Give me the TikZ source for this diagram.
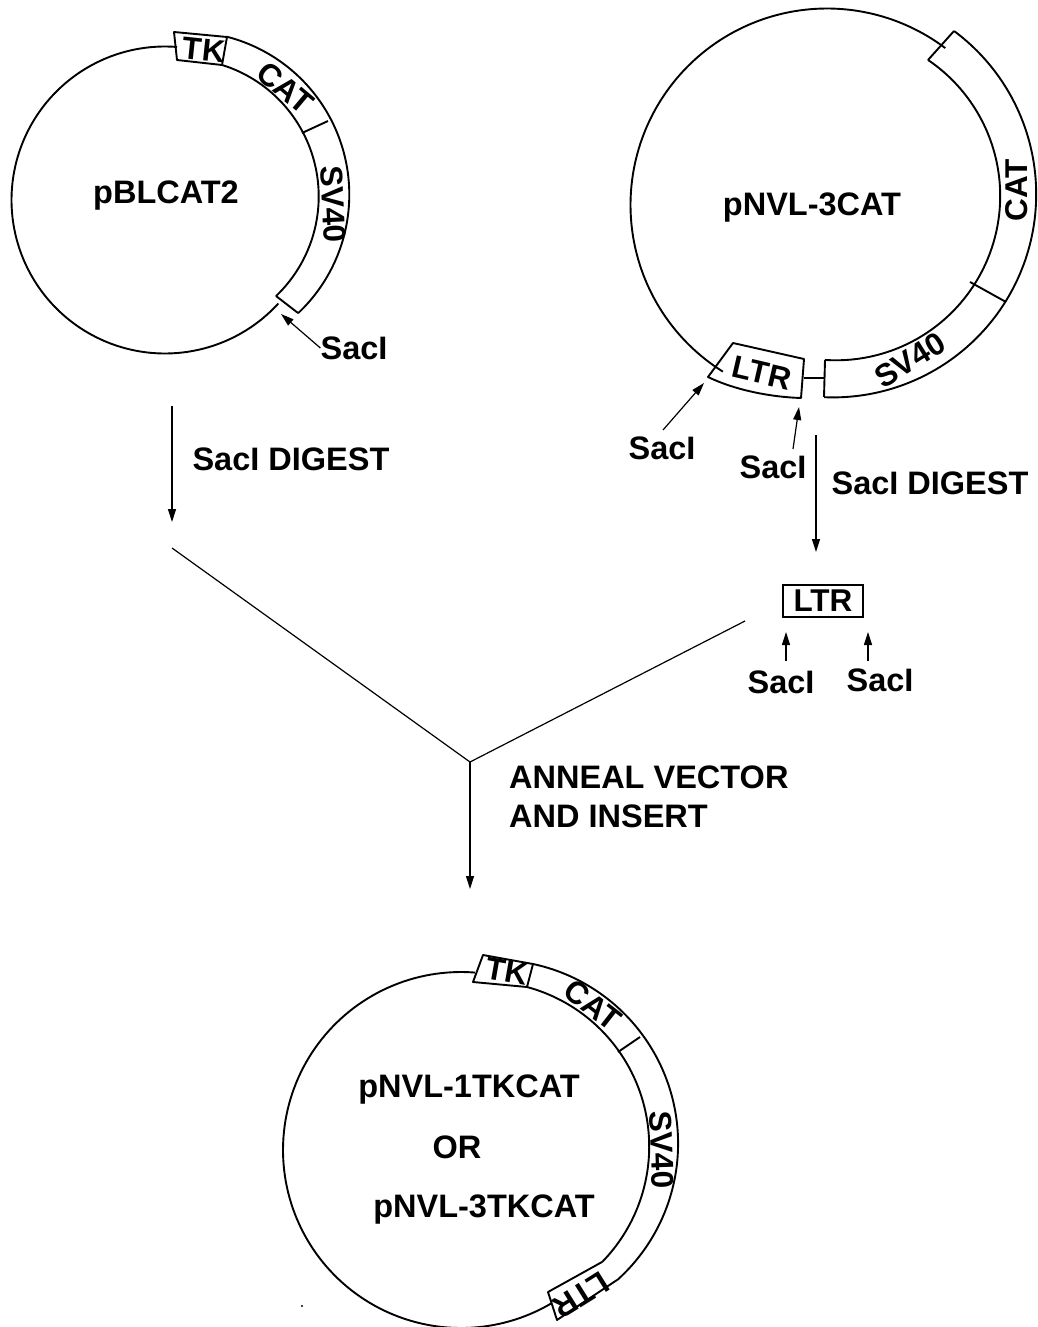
\documentclass[tikz,border=0pt]{standalone}
\usepackage{fontspec}
\setmainfont{Liberation Sans}
\usetikzlibrary{arrows.meta}
\tikzset{
  line/.style={draw=black,line width=1.9pt,line join=round},
  thin line/.style={draw=black,line width=1.2pt},
  arrow line/.style={thin line,-{Triangle[length=13pt,width=8pt]}},
  lbl/.style={font=\fontsize{32.5}{38}\bfseries\selectfont,text=black,inner sep=0pt},
  blbl/.style={font=\fontsize{31.5}{38}\bfseries\selectfont,text=black,inner sep=0pt}
}
% centre x, centre y, radius, start angle, end angle (clockwise on screen)
\newcommand\ringarc[5]{\draw[line] plot[domain=#4:#5,samples=120] ({#1+#3*cos(\x)},{#2+#3*sin(\x)});}
\begin{document}
\begin{tikzpicture}[x=1pt,y=-1pt]
\useasboundingbox (0,0) rectangle (1037,1327);
\fill[white] (0,0) rectangle (1037,1327);
% --- pBLCAT2
\ringarc{165}{200}{153.5}{-85.5}{-317.6}
\ringarc{181}{196.4}{137.7}{-72.7}{46.4}
\ringarc{186.3}{194.6}{163}{-75.5}{46.7}
\draw[line] (276,296) -- (298,313);
\draw[line] (227,37) -- (174,32) -- (177,60) -- (222,65) -- cycle;
\draw[line] (302,133) -- (328,121);
\node[blbl,rotate=-6] (tkA) at (204,50) {TK};
\node[blbl,rotate=-40] (catA) at (285,88) {CAT};
\node[blbl,rotate=-87] (svA) at (333,204) {SV40};
\node[lbl] (nameA) at (166,196) {pBLCAT2};
\node[lbl] (sacA) at (354,348) {SacI};
\coordinate (sacAtip) at (281,314);
\draw[arrow line] (sacA.west) -- (sacAtip);
% digest left
\node[lbl] (digA) at (291,459) {SacI DIGEST};
\coordinate (dA1) at (172,406);
\coordinate (dA2) at (172,522);
\draw[arrow line] (dA1) -- (dA2);
% --- pNVL-3CAT
\ringarc{827}{205}{196.5}{-53}{-238}
\ringarc{835.9}{196}{164.3}{-55.9}{93.8}
\ringarc{833}{194.2}{203.2}{-53.4}{92.5}
\draw[line] (928,60) -- (954,31);
\draw[line] (825,360) -- (824,397);
\draw[line] (970,282) -- (1006,302);
\draw[line] (708,377) -- (733,343) -- (804,359) -- (801,398) .. controls (770,397) and (735,390) .. (708,377) -- cycle;
\draw[line] (804,378) -- (824,378);
\node[blbl,rotate=-13] (ltrB) at (762,373) {LTR};
\node[blbl,rotate=32] (svB) at (910,360) {SV40};
\node[blbl,rotate=90] (catB) at (1017,190) {CAT};
\node[lbl] (nameB) at (812,208) {pNVL-3CAT};
\node[lbl] (sacB1) at (662,448) {SacI};
\node[lbl] (sacB2) at (773,467) {SacI};
\coordinate (sacB1tip) at (704,383);
\coordinate (sacB2tip) at (799,407);
\coordinate (sacB1s) at (663,430);
\coordinate (sacB2s) at (793,449);
\draw[arrow line] (sacB1s) -- (sacB1tip);
\draw[arrow line] (sacB2s) -- (sacB2tip);
\node[lbl] (digB) at (930,483) {SacI DIGEST};
\coordinate (dB1) at (816,435);
\coordinate (dB2) at (816,552);
\draw[arrow line] (dB1) -- (dB2);
% --- LTR fragment
\node[draw=black,line width=1.6pt,minimum width=80pt,minimum height=32pt,inner sep=0pt,blbl] (ltrC) at (823,601) {LTR};
\node[lbl] (sacC1) at (781,682) {SacI};
\node[lbl] (sacC2) at (880,680) {SacI};
\coordinate (c1s) at (786,661);
\coordinate (c1t) at (786,632);
\coordinate (c2s) at (868,661);
\coordinate (c2t) at (868,632);
\draw[arrow line] (c1s) -- (c1t);
\draw[arrow line] (c2s) -- (c2t);
% --- join
\coordinate (joinV) at (470,762);
\coordinate (joinL) at (172,548);
\coordinate (joinR) at (745,621);
\coordinate (joinE) at (470,889);
\draw[thin line] (joinL) -- (joinV) -- (joinR);
\draw[arrow line] (joinV) -- (joinE);
\node[lbl,anchor=west] (ann1) at (509,777) {ANNEAL VECTOR};
\node[lbl,anchor=west] (ann2) at (509,816) {AND INSERT};
% --- product
\ringarc{461}{1150}{178}{-85.5}{-300.4}
\ringarc{484}{1146.5}{165.2}{-74.9}{44.4}
\ringarc{494.5}{1143.5}{183.6}{-77.9}{48.1}
\draw[line] (533,964) -- (483,955) -- (473,982) -- (527,987) -- cycle;
\draw[line] (618,1052) -- (640,1037);
\draw[line] (602,1262) -- (548,1292) -- (557,1320) -- (617,1280);
\node[blbl,rotate=-10] (tkD) at (507,971) {TK};
\node[blbl,rotate=-38] (catD) at (593,1005) {CAT};
\node[blbl,rotate=-88] (svD) at (662,1150) {SV40};
\node[blbl,rotate=-148] (ltrD) at (581,1295) {LTR};
\node[lbl] (nameD1) at (469,1090) {pNVL-1TKCAT};
\node[lbl] (or) at (457,1147) {OR};
\node[lbl] (nameD3) at (484,1210) {pNVL-3TKCAT};
\fill[black] (302,1306) circle (1.2pt);
\end{tikzpicture}
\end{document}
